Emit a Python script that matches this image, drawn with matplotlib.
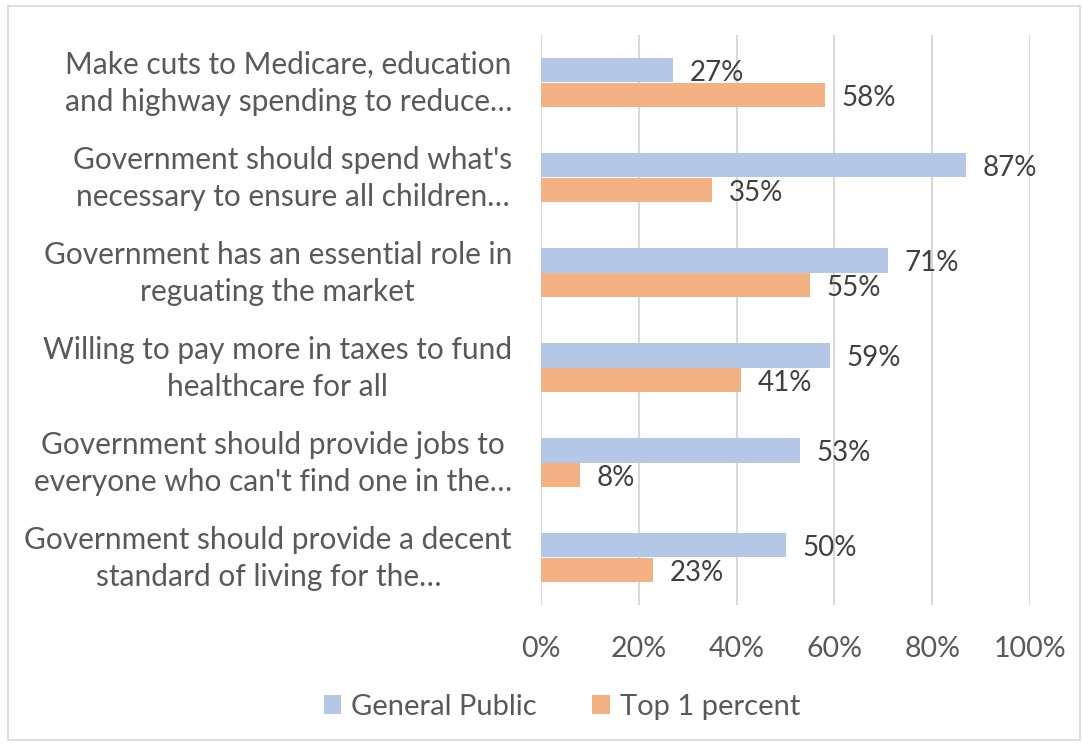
import matplotlib.pyplot as plt
import matplotlib.transforms as mtransforms
import numpy as np
from matplotlib.patches import Rectangle

plt.rcParams['font.family'] = ['Lato', 'DejaVu Sans']

categories = [
    "Make cuts to Medicare, education\nand highway spending to reduce\u2026",
    "Government should spend what's\nnecessary to ensure all children\u2026",
    "Government has an essential role in\nreguating the market",
    "Willing to pay more in taxes to fund\nhealthcare for all",
    "Government should provide jobs to\neveryone who can't find one in the\u2026",
    "Government should provide a decent\nstandard of living for the\u2026",
]
general_public = [27, 87, 71, 59, 53, 50]
top_1_percent = [58, 35, 55, 41, 8, 23]
xticks = [0, 20, 40, 60, 80, 100]

blue = '#b4c7e7'
orange = '#f4b183'

fig = plt.figure(figsize=(10.82, 7.46), dpi=100)
fig.patches.append(Rectangle((8 / 1082, 6 / 746), 1072 / 1082, 734 / 746,
                             transform=fig.transFigure, fill=False,
                             edgecolor='#d9d9d9', linewidth=1.2))
ax = fig.add_axes([541 / 1082, 1 - 605 / 746, 489 / 1082, 570 / 746])

y = np.arange(len(categories))
h = 0.26
ax.barh(y - h / 2, general_public, height=h, color=blue, label='General Public', zorder=3)
ax.barh(y + h / 2, top_1_percent, height=h, color=orange, label='Top 1 percent', zorder=3)

# value labels just past the end of each bar
for yi, v in zip(y, general_public):
    ax.text(v + 3.4, yi - h / 2 + 0.03, f"{v}%", va='center', ha='left',
            fontsize=20, color='#404040')
for yi, v in zip(y, top_1_percent):
    ax.text(v + 3.4, yi + h / 2 + 0.03, f"{v}%", va='center', ha='left',
            fontsize=20, color='#404040')

ax.set_xlim(0, 100)
ax.set_ylim(len(categories) - 0.5, -0.5)
ax.set_xticks(xticks)
ax.set_xticklabels([f"{t}%" for t in xticks], fontsize=20.5, color='#595959')
ax.set_yticks(y)
ax.set_yticklabels([])
ax.tick_params(axis='both', length=0)
ax.tick_params(axis='x', pad=22)
ax.grid(axis='x', color='#d9d9d9', linewidth=1.5, zorder=0)
for s in ax.spines.values():
    s.set_visible(False)

# category labels: right edge next to the axis, lines centred on each other
lbl_trans = mtransforms.offset_copy(ax.get_yaxis_transform(), fig=fig,
                                    x=-29, y=-1, units='dots')
for yi, cat in zip(y, categories):
    ax.text(0, yi, cat, transform=lbl_trans, ha='right', va='center',
            multialignment='center', fontsize=21.5, color='#595959',
            linespacing=1.42)

fig.legend(loc='center', bbox_to_anchor=(562 / 1082, 1 - 707 / 746), ncol=2,
           frameon=False, fontsize=21, labelcolor='#595959',
           handlelength=0.6, handleheight=0.6, columnspacing=1.9, handletextpad=0.35)

fig.savefig('out.png', dpi=100)
